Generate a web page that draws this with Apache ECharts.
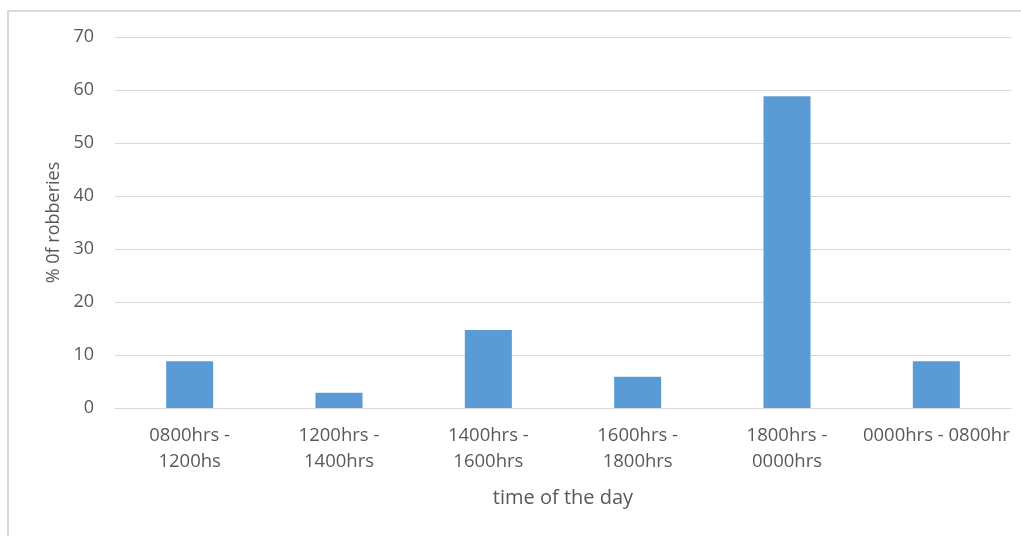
<!DOCTYPE html>
<html>
<head>
<meta charset="utf-8">
<title>Robberies by time of day</title>
<script src="https://cdn.jsdelivr.net/npm/echarts@6/dist/echarts.min.js"></script>
<style>
  html, body { margin: 0; padding: 0; background: #ffffff; }
  #frame {
    position: absolute; left: 7px; top: 10px; width: 1030px; height: 540px;
    border: 2px solid #d9d9d9; box-sizing: border-box;
  }
  #chart { position: absolute; left: 0; top: 0; width: 1021px; height: 536px; }
</style>
</head>
<body>
<div id="frame"></div>
<div id="chart"></div>
<script>
// Time-of-day bands (the last label is cut off at the plot edge)
var categories = [
  '0800hrs -\n1200hs',
  '1200hrs -\n1400hrs',
  '1400hrs -\n1600hrs',
  '1600hrs -\n1800hrs',
  '1800hrs -\n0000hrs',
  '0000hrs - 0800hr'
];
// Share of robberies in each band, %
var robberyShare = [8.8, 2.9, 14.7, 5.9, 58.8, 8.8];
// Value axis range
var yMin = 0;
var yMax = 70;
var yStep = 10;

var textColor = '#595959';
var fontFamily = '"Open Sans", "Noto Sans", sans-serif';

var chart = echarts.init(document.getElementById('chart'), null, { renderer: 'canvas' });
chart.setOption({
  animation: false,
  backgroundColor: 'transparent',
  grid: { left: 115, right: 10, top: 37, bottom: 128, containLabel: false },
  xAxis: {
    type: 'category',
    data: categories,
    name: 'time of the day',
    nameLocation: 'middle',
    nameGap: 77,
    nameTextStyle: { color: textColor, fontSize: 20, fontFamily: fontFamily, lineHeight: 26 },
    axisLine: { show: true, lineStyle: { color: '#d9d9d9', width: 1 } },
    axisTick: { show: false },
    axisLabel: {
      color: textColor, fontSize: 18.5, fontFamily: fontFamily,
      lineHeight: 26, margin: 15, interval: 0
    }
  },
  yAxis: {
    type: 'value',
    min: yMin,
    max: yMax,
    interval: yStep,
    name: '% 0f robberies',
    nameLocation: 'middle',
    nameGap: 50,
    nameTextStyle: { color: textColor, fontSize: 18, fontFamily: fontFamily },
    axisLine: { show: false },
    axisTick: { show: false },
    axisLabel: { color: textColor, fontSize: 18, fontFamily: fontFamily, margin: 21 },
    splitLine: { show: true, lineStyle: { color: '#d9d9d9', width: 1 } }
  },
  series: [{
    type: 'bar',
    data: robberyShare,
    barWidth: '31.5%',
    itemStyle: { color: '#5b9bd5' }
  }]
});
</script>
</body>
</html>
